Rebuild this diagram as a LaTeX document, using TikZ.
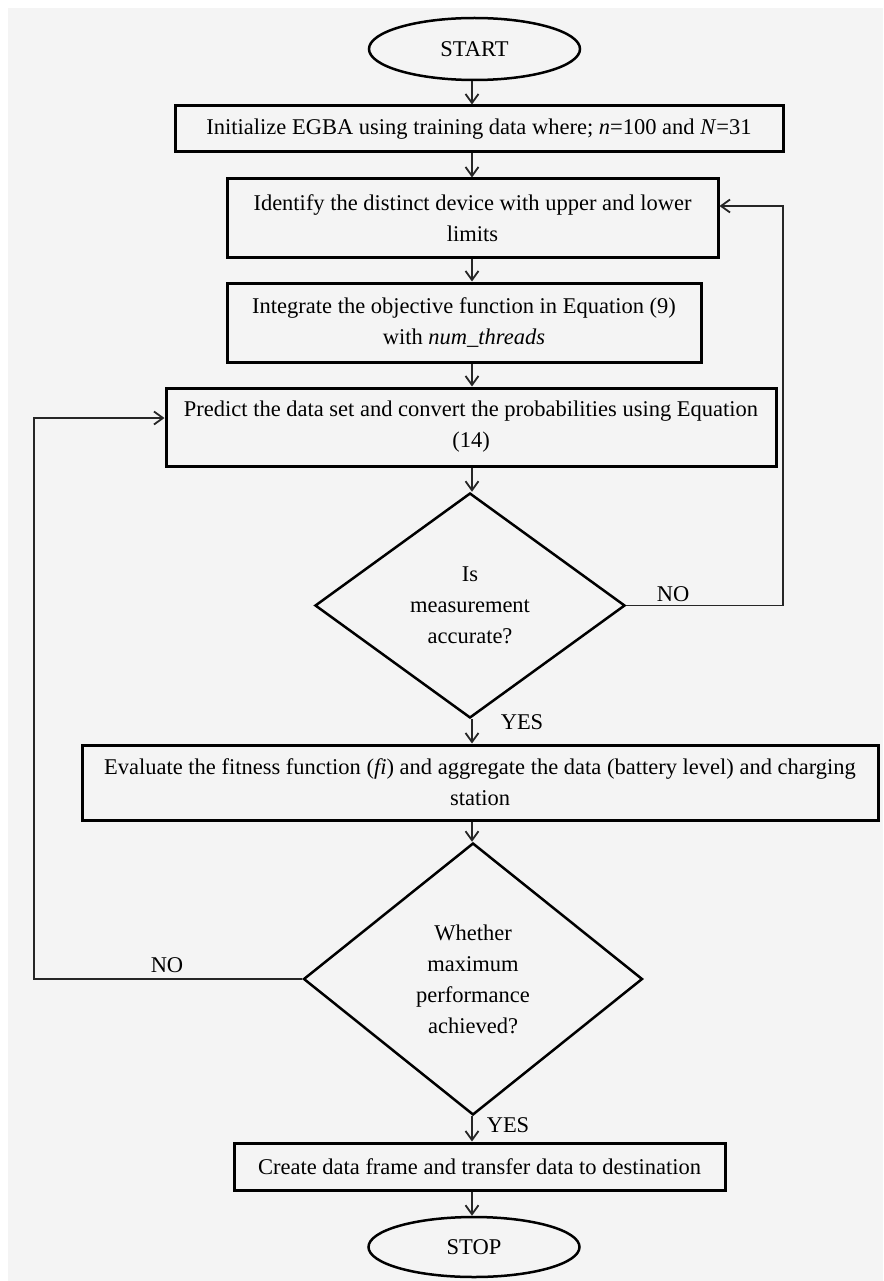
\documentclass[tikz,border=0pt]{standalone}
\usepackage{fontspec}
\setmainfont{Liberation Serif}
\usetikzlibrary{shapes.geometric,arrows.meta,calc}
\definecolor{bgc}{HTML}{F4F4F4}
\begin{document}
\begin{tikzpicture}[x=1pt,y=-1pt,
  every node/.style={font=\fontsize{22.5}{31}\selectfont},
  procbox/.style={draw=black,line width=3pt,rectangle,inner sep=0pt,align=center},
  term/.style={draw=black,line width=2.5pt,ellipse,inner sep=0pt},
  decision/.style={draw=black,line width=2.5pt,diamond,inner sep=0pt,align=center},
  conn/.style={line width=1.8pt,draw=black!85},
  arr/.style={conn,-{Straight Barb[length=9pt,width=13pt,line width=1.8pt]}},
  lbl/.style={inner sep=0pt}
]
\useasboundingbox (0,0) rectangle (883,1281);
\fill[white] (0,0) rectangle (883,1281);
\fill[bgc] (8,8) rectangle (883,1281);

\coordinate (axis) at (472,0);
\coordinate (rx) at (783,0);
\coordinate (lx) at (34,0);

\node[term, minimum width=211pt, minimum height=62pt] (start) at (474.5,49) {START};
\node[procbox, minimum width=608pt, minimum height=46pt] (b1) at (479,129)
  {Initialize EGBA using training data where; \textit{n}=100 and \textit{N}=31};
\node[procbox, minimum width=491pt, minimum height=78pt] (b2) at (472.5,218)
  {Identify the distinct device with upper and lower\\limits};
\node[procbox, minimum width=474pt, minimum height=79pt] (b3) at (464,322.5)
  {Integrate the objective function in Equation (9)\\with \textit{num\_threads}};
\node[procbox, minimum width=610pt, minimum height=78pt] (b4) at (471,427)
  {Predict the data set and convert the probabilities using Equation\\(14)};
\node[decision, minimum width=310pt, minimum height=225pt] (d1) at (470,605.5)
  {Is\\measurement\\accurate?};
\node[procbox, minimum width=796pt, minimum height=75pt] (b5) at (480,782.5)
  {Evaluate the fitness function (\textit{fi}) and aggregate the data (battery level) and charging\\station};
\node[decision, minimum width=339pt, minimum height=272pt] (d2) at (473,979)
  {Whether\\maximum\\performance\\achieved?};
\node[procbox, minimum width=491pt, minimum height=47pt] (b6) at (479.5,1166.5)
  {Create data frame and transfer data to destination};
\node[term, minimum width=211pt, minimum height=60pt] (stop) at (474,1247) {STOP};

\node[lbl] (no1) at (673,594) {NO};
\node[lbl] (yes1) at (522,722) {YES};
\node[lbl] (no2) at (167,965) {NO};
\node[lbl] (yes2) at (508,1125) {YES};

\draw[arr] (start.south -| axis) -- (b1.north -| axis);
\draw[arr] (b1.south -| axis) -- (b2.north -| axis);
\draw[arr] (b2.south -| axis) -- (b3.north -| axis);
\draw[arr] (b3.south -| axis) -- (b4.north -| axis);
\draw[arr] (b4.south -| axis) -- (d1.north -| axis);
\draw[arr] (d1.south -| axis) -- (b5.north -| axis);
\draw[arr] (b5.south -| axis) -- (d2.north -| axis);
\draw[arr] (d2.south -| axis) -- (b6.north -| axis);
\draw[arr] (b6.south -| axis) -- (stop.north -| axis);

\draw[arr] (d1.east) -- (d1.east -| rx) |- ([yshift=12pt]b2.east);
\draw[arr] (d2.west) -- (d2.west -| lx) |- ([yshift=9pt]b4.west);
\end{tikzpicture}
\end{document}
